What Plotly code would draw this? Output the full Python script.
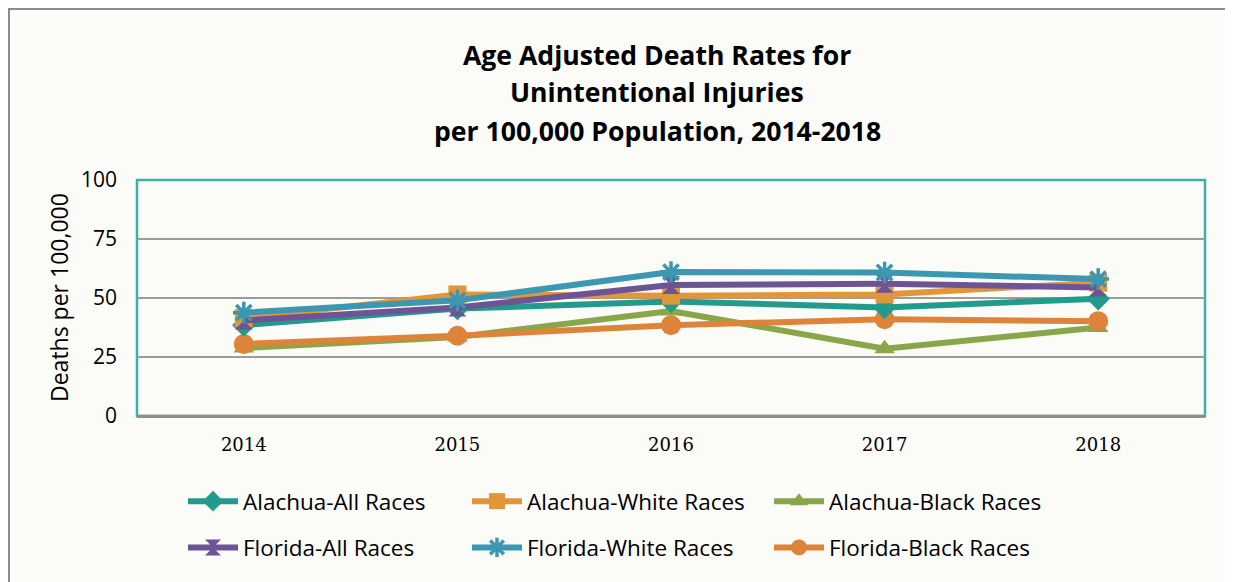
import plotly.graph_objects as go

years = ["2014", "2015", "2016", "2017", "2018"]
alachua_all = [38.5, 45.5, 48.5, 46.0, 49.7]
alachua_white = [41.5, 51.5, 51.0, 51.5, 56.5]
alachua_black = [28.8, 33.5, 44.5, 28.5, 37.5]
florida_all = [40.5, 46.0, 55.5, 56.0, 54.5]
florida_white = [43.8, 49.0, 61.0, 60.8, 58.0]
florida_black = [30.5, 34.0, 38.5, 41.0, 40.2]

title_lines = ["Age Adjusted Death Rates for", "Unintentional Injuries",
               "per 100,000 Population, 2014-2018"]
y_title = "Deaths per 100,000"
y_ticks = [0, 25, 50, 75, 100]

series = [
    ("Alachua-All Races", alachua_all, "#229a8c", "diamond", 18, "legend", 1),
    ("Florida-All Races", florida_all, "#6d5494", "hourglass", 18, "legend", 2),
    ("Alachua-White Races", alachua_white, "#e2963a", "square", 18, "legend2", 1),
    ("Florida-White Races", florida_white, "#3c97b0", "asterisk-open", 18, "legend2", 2),
    ("Alachua-Black Races", alachua_black, "#89a74a", "triangle-up", 18, "legend3", 1),
    ("Florida-Black Races", florida_black, "#dd843a", "circle", 20, "legend3", 2),
]
draw_order = [4, 5, 0, 2, 1, 3]

fig = go.Figure()
for idx in draw_order:
    name, vals, color, sym, size, leg, rank = series[idx]
    marker = dict(symbol=sym, size=size, color=color)
    if sym == "asterisk-open":
        marker["line"] = dict(color=color, width=3.5)
    fig.add_trace(go.Scatter(
        x=years, y=vals, name=name, mode="lines+markers",
        line=dict(color=color, width=6), marker=marker,
        legend=leg, legendgroup=name, legendrank=rank,
    ))

bg = "#fbfbf7"
font_fam = "Open Sans"
legend_common = dict(
    orientation="v", xref="container", yref="container",
    xanchor="left", yanchor="top",
    bgcolor="rgba(0,0,0,0)", font=dict(family=font_fam, size=22.5, color="#000000"),
    tracegroupgap=14, traceorder="grouped", itemwidth=50,
)
leg_top = 1 - 472 / 582
fig.update_layout(
    width=1233, height=582,
    paper_bgcolor=bg, plot_bgcolor=bg,
    margin=dict(l=129, r=36, t=172, b=174, autoexpand=False),
    showlegend=True,
    legend=dict(x=175 / 1233, y=leg_top, **legend_common),
    legend2=dict(x=459 / 1233, y=leg_top, **legend_common),
    legend3=dict(x=761 / 1233, y=leg_top, **legend_common),
    xaxis=dict(
        type="category", range=[-0.5, 4.5], showgrid=False, automargin=False,
        showline=True, linecolor="#8a8f8f", linewidth=2,
        tickfont=dict(family="DejaVu Serif", size=18, color="#000000"),
        ticks="", ticklabelstandoff=11,
    ),
    yaxis=dict(
        range=[0, 100], tickvals=y_ticks, showgrid=True, automargin=False,
        gridcolor="#9c9c9c", gridwidth=2, zeroline=False,
        tickfont=dict(family=font_fam, size=21, color="#000000"),
        ticks="", ticklabelstandoff=19,
    ),
    shapes=[
        dict(type="rect", xref="paper", yref="paper", x0=0, x1=1, y0=0, y1=1,
             line=dict(color="#3fb0a8", width=2.5), fillcolor="rgba(0,0,0,0)", layer="below"),
        dict(type="line", xref="paper", yref="paper", x0=0, x1=1, y0=0, y1=0,
             line=dict(color="#8a8f8f", width=2.5), layer="above"),
        dict(type="rect", xref="paper", yref="paper",
             x0=(1 - 129) / 1068, x1=1.2, y0=-1, y1=(408 - 1) / 236,
             line=dict(color="#8c8c8c", width=2), fillcolor="rgba(0,0,0,0)", layer="below"),
    ],
)

line_y = [47, 84, 123]
for txt, fy in zip(title_lines, line_y):
    fig.add_annotation(
        text="<b>" + txt + "</b>", xref="paper", yref="paper",
        x=(649 - 129) / 1068, y=(408 - fy) / 236, xanchor="center", yanchor="middle",
        showarrow=False, font=dict(family=font_fam, size=26.6, color="#000000"),
    )

fig.add_annotation(
    text=y_title, xref="paper", yref="paper", x=(51 - 129) / 1068, y=0.5,
    xanchor="center", yanchor="middle", textangle=-90, showarrow=False,
    font=dict(family=font_fam, size=23, color="#000000"),
)

fig.write_html("out.html")
